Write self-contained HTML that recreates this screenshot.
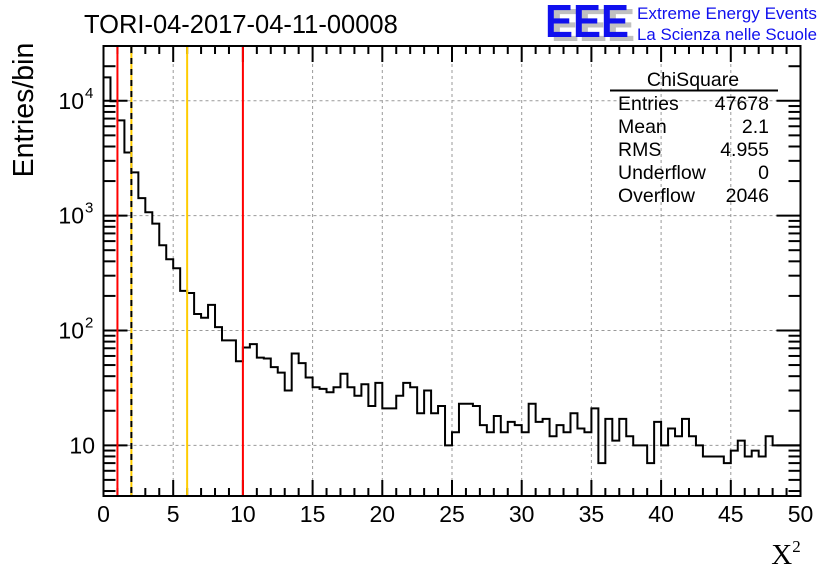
<!DOCTYPE html>
<html><head><meta charset="utf-8"><style>
html,body{margin:0;padding:0;background:#fff;}
svg{display:block;font-family:"Liberation Sans",Arial,sans-serif;}
</style></head><body>
<svg id="c" width="836" height="572" viewBox="0 0 836 572">
<rect width="836" height="572" fill="#fff"/>
<g id="grid"></g>
<path id="hist" fill="none" stroke="#000" stroke-width="2"/>
<g id="axes"></g>
<g id="vlines"></g>
<text x="84" y="33" font-size="25.5">TORI-04-2017-04-11-00008</text>
<g>
<text x="551" y="41" font-size="46" font-weight="bold" fill="#c0c0c0" textLength="84" lengthAdjust="spacingAndGlyphs">EEE</text>
<text x="545" y="37" font-size="46" font-weight="bold" fill="#1010ee" textLength="84" lengthAdjust="spacingAndGlyphs">EEE</text>
<text x="637" y="19" font-size="17" fill="#1010ee" textLength="180" lengthAdjust="spacingAndGlyphs">Extreme Energy Events</text>
<text x="637" y="40" font-size="17" fill="#1010ee" textLength="180" lengthAdjust="spacingAndGlyphs">La Scienza nelle Scuole</text>
</g>
<g font-size="19.5">
<text x="693" y="86" text-anchor="middle">ChiSquare</text>
<line x1="610" y1="90.5" x2="778" y2="90.5" stroke="#000" stroke-width="2"/>
<text x="618" y="110">Entries</text><text x="769" y="110" text-anchor="end">47678</text>
<text x="618" y="133">Mean</text><text x="769" y="133" text-anchor="end">2.1</text>
<text x="618" y="156">RMS</text><text x="769" y="156" text-anchor="end">4.955</text>
<text x="618" y="179">Underflow</text><text x="769" y="179" text-anchor="end">0</text>
<text x="618" y="202">Overflow</text><text x="769" y="202" text-anchor="end">2046</text>
</g>
<text x="786" y="564" font-size="29" font-family="Liberation Serif,serif" text-anchor="middle">X<tspan font-size="17" dy="-12">2</tspan></text>
<text transform="translate(33,110) rotate(-90)" font-size="28.5" text-anchor="middle">Entries/bin</text>
</svg>
<script>
const counts=[16000,9900,6750,3550,2380,1420,1070,852,552,417,348,221,212,139,129,167,107,82,82,54,71,76,58,57,48,43,30,63,52,39,32,31,29,32,
42,32,27,34,22,35,21,21,27,35,32,19,30,19,22,10,13,23,23,22,15,13,18,13,16,15,13,23,16,17,12,15,13,19,14,13,21,7,17,11,17,12,10,10,7,16,10,14,12,17,12,10,8,8,8,7,9,11,8,9,8,12,10,10,10,10];
const xTicks=[0,5,10,15,20,25,30,35,40,45,50];
const yDecades=[1,2,3,4];
const yDecadeLabels=["10","10","10","10"];
const cutLines=[{x:1,c:"#ff0000"},{x:2,c:"#ffcc00"},{x:6,c:"#ffcc00"},{x:10,c:"#ff0000"}];
const X0=103.5,X1=800.5,Y0=496,Y1=46;
const xMin=0,xMax=50,binW=0.5,yMin=3.62,yMax=30000;
const lx=Math.log10(yMin),hx=Math.log10(yMax);
function sx(v){return X0+(v-xMin)/(xMax-xMin)*(X1-X0);}
function sy(v){return Y0-(Math.log10(v)-lx)/(hx-lx)*(Y0-Y1);}
const NS="http://www.w3.org/2000/svg";
function mk(t,a,p){const e=document.createElementNS(NS,t);for(const k in a)e.setAttribute(k,a[k]);p.appendChild(e);return e;}
const grid=document.getElementById('grid'),axes=document.getElementById('axes'),vl=document.getElementById('vlines');
xTicks.forEach(t=>{if(t>xMin&&t<xMax){const l=mk('line',{x1:sx(t),x2:sx(t),y1:Y1,y2:Y0,stroke:'#999','stroke-dasharray':'3,3','stroke-width':1},grid);

}});
yDecades.forEach(d=>{const y=sy(Math.pow(10,d));const l=mk('line',{x1:X0,x2:X1,y1:y,y2:y,stroke:'#999','stroke-dasharray':'3,3','stroke-width':1},grid);

});
cutLines.forEach(c=>{const x=sx(c.x);const l=mk('line',{x1:x,x2:x,y1:Y1+1,y2:Y0-1,stroke:c.c,'stroke-width':2},vl);


if(c.x===2){const d=mk('line',{x1:x,x2:x,y1:Y1+1,y2:Y0-1,stroke:'#000','stroke-width':2,'stroke-dasharray':'6,5'},vl);

}});
let d='M'+X0+' '+Y0;
counts.forEach((v,i)=>{const y=sy(Math.max(v,yMin));d+=' L'+sx(i*binW)+' '+y+' L'+sx((i+1)*binW)+' '+y;});
document.getElementById('hist').setAttribute('d',d);
mk('rect',{x:X0,y:Y1,width:X1-X0,height:Y0-Y1,fill:'none',stroke:'#000','stroke-width':2},axes);
for(let v=xMin;v<=xMax+1e-9;v+=1){const major=(v%5===0);const L=major?16:8;const x=sx(v);
mk('line',{x1:x,x2:x,y1:Y0,y2:Y0-L,stroke:'#000','stroke-width':2},axes);
mk('line',{x1:x,x2:x,y1:Y1,y2:Y1+L,stroke:'#000','stroke-width':2},axes);}
xTicks.forEach(t=>{const e=mk('text',{x:sx(t),y:522,'font-size':23,'text-anchor':'middle'},axes);e.textContent=t;

});
for(let d2=0;d2<=4;d2++){for(let m=1;m<=9;m++){const v=m*Math.pow(10,d2);if(v<yMin||v>yMax)continue;const y=sy(v);const L=m===1?24:12;
mk('line',{x1:X0,x2:X0+L,y1:y,y2:y,stroke:'#000','stroke-width':2},axes);
mk('line',{x1:X1,x2:X1-L,y1:y,y2:y,stroke:'#000','stroke-width':2},axes);}}
yDecades.forEach((dd,i)=>{const y=sy(Math.pow(10,dd));const e=mk('text',{x:dd===1?95:84,y:y+8,'font-size':23,'text-anchor':'end'},axes);


e.textContent=yDecadeLabels[i];
if(dd>1){const s=mk('text',{x:85,y:y-3,'font-size':15},axes);s.textContent=dd;

}});
</script>
</body></html>
